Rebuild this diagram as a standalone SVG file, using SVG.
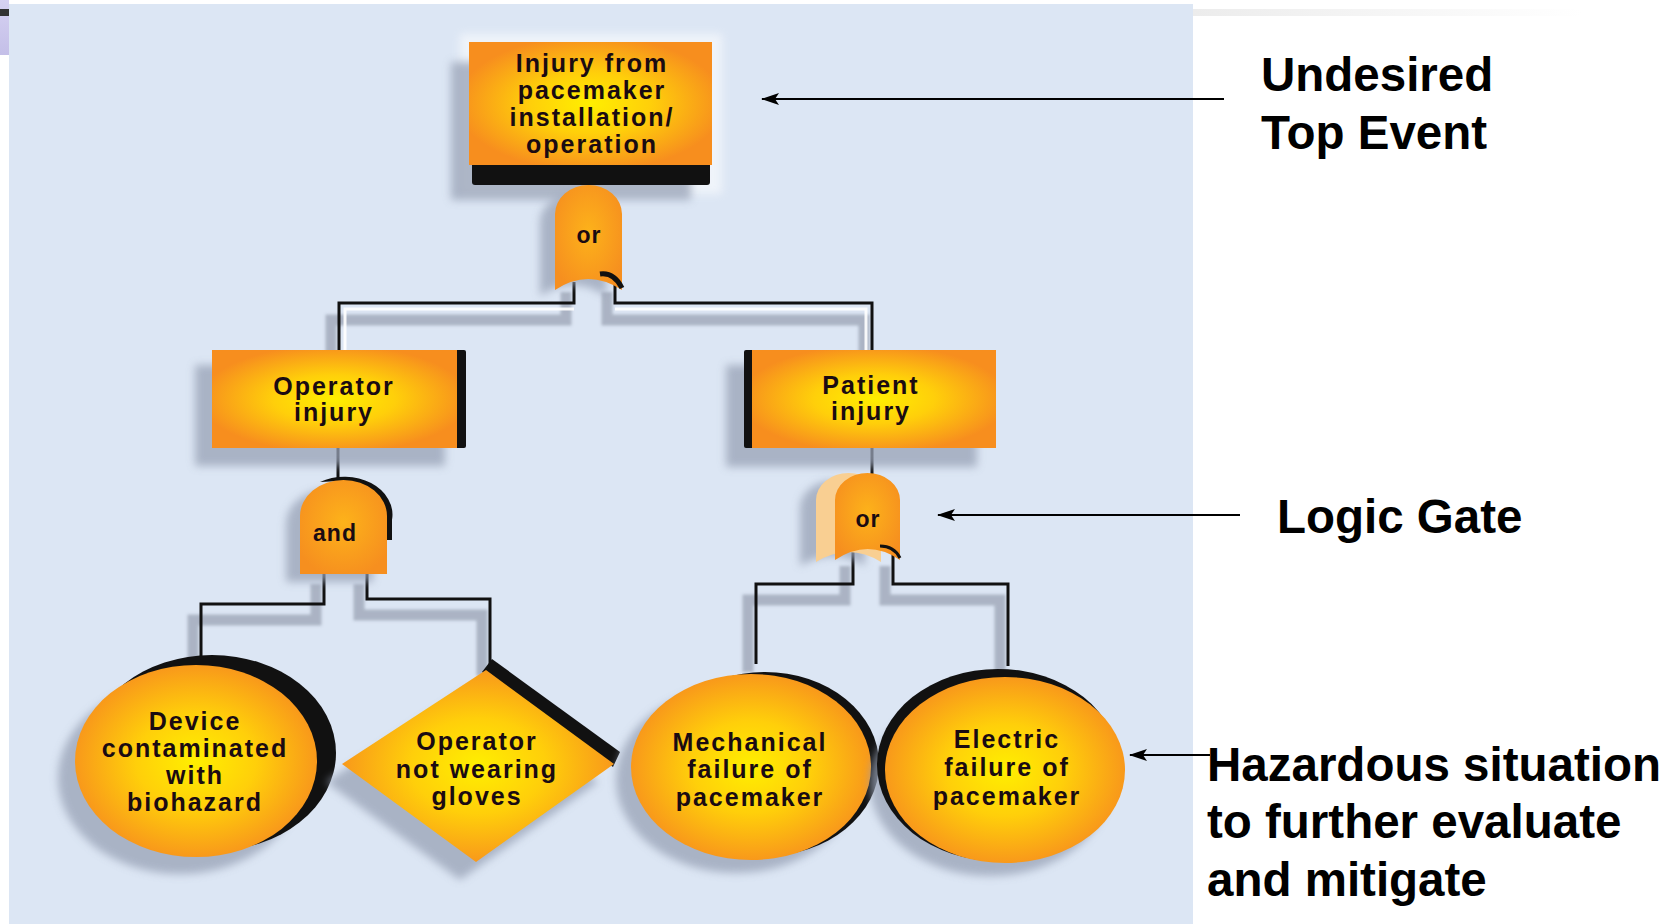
<svg xmlns="http://www.w3.org/2000/svg" width="1672" height="924" viewBox="0 0 1672 924">
  <defs>
    <radialGradient id="warm" cx="50%" cy="50%" r="55%">
      <stop offset="0" stop-color="#ffef00"/>
      <stop offset="0.45" stop-color="#ffcf0a"/>
      <stop offset="1" stop-color="#f78e1e"/>
    </radialGradient>
    <radialGradient id="gateFill" cx="50%" cy="45%" r="60%">
      <stop offset="0" stop-color="#fdb21a"/>
      <stop offset="1" stop-color="#f68f1f"/>
    </radialGradient>
    <linearGradient id="lavender" x1="0" y1="0" x2="0" y2="1">
      <stop offset="0" stop-color="#d6d2f2"/>
      <stop offset="1" stop-color="#c4bfe8"/>
    </linearGradient>
    <linearGradient id="rule" x1="0" y1="0" x2="1" y2="0">
      <stop offset="0" stop-color="#ececec"/>
      <stop offset="1" stop-color="#ffffff"/>
    </linearGradient>
    <filter id="soft" x="-20%" y="-20%" width="140%" height="140%">
      <feGaussianBlur stdDeviation="4"/>
    </filter>
    <filter id="softer" x="-20%" y="-20%" width="140%" height="140%">
      <feGaussianBlur stdDeviation="1.5"/>
    </filter>
    <!-- solid arrowhead; tip sits on the end of the line -->
    <marker id="arrow" viewBox="0 0 18 12" refX="17" refY="6" markerWidth="18" markerHeight="12" markerUnits="userSpaceOnUse" orient="auto">
      <path d="M0,0 L18,6 L0,12 L4,6 Z" fill="#000"/>
    </marker>
    <style>
      .shadow { fill: #98a2b6; opacity: 0.75; filter: url(#soft); }
      .face { fill: url(#warm); }
      .gate { fill: url(#gateFill); }
      .rim { fill: #111; }
      .node-text { font-family: "Liberation Sans", Arial, sans-serif; font-weight: bold; font-size: 25px; letter-spacing: 2px; fill: #1a0b12; text-anchor: middle; }
      .gate-text { font-family: "Liberation Sans", Arial, sans-serif; font-weight: bold; font-size: 23px; letter-spacing: 1px; fill: #1a0b12; text-anchor: middle; }
      .label { font-family: "Liberation Sans", Arial, sans-serif; font-weight: bold; font-size: 47.5px; fill: #000; }
      .wire { fill: none; stroke: #111; stroke-width: 3; }
      .wire-shadow { fill: none; stroke: #a3abbc; stroke-width: 11; opacity: 0.85; filter: url(#softer); }
      .wire-light { fill: none; stroke: #ffffff; stroke-width: 3; opacity: 0.9; }
      .pointer { fill: none; stroke: #000; stroke-width: 2; }
    </style>
  </defs>

  <!-- page and panel -->
  <rect x="0" y="0" width="1672" height="924" fill="#ffffff"/>
  <rect x="9" y="4" width="1184" height="920" fill="#dce6f4"/>
  <rect x="0" y="0" width="9" height="55" fill="url(#lavender)"/>
  <rect x="0" y="9" width="9" height="7" fill="#333333"/>
  <rect x="1193" y="9" width="390" height="7" fill="url(#rule)"/>

  <!-- connectors -->
  <g id="connectors">
    <g class="shadows">
      <polyline class="wire-shadow" points="566,292 566,320 331,320 331,362"/>
      <polyline class="wire-shadow" points="607,292 607,320 864,320 864,362"/>
      <polyline class="wire-shadow" points="316,584 316,620 193,620 193,668"/>
      <polyline class="wire-shadow" points="359,584 359,615 482,615 482,676"/>
      <polyline class="wire-shadow" points="845,566 845,600 748,600 748,672"/>
      <polyline class="wire-shadow" points="885,566 885,600 1000,600 1000,674"/>
      <polyline class="wire-light" points="574,309 345,309 345,352"/>
      <polyline class="wire-light" points="615,309 866,309 866,352"/>
    </g>
    <polyline class="wire" points="574,282 574,303 339,303 339,352"/>
    <polyline class="wire" points="615,282 615,303 872,303 872,352"/>
    <line class="wire" x1="338" y1="448" x2="338" y2="482"/>
    <line class="wire" x1="872" y1="448" x2="872" y2="475"/>
    <polyline class="wire" points="324,572 324,604 201,604 201,662"/>
    <polyline class="wire" points="367,572 367,599 490,599 490,666"/>
    <polyline class="wire" points="853,552 853,584 756,584 756,664"/>
    <polyline class="wire" points="893,552 893,584 1008,584 1008,666"/>
  </g>

  <!-- top event -->
  <g id="top-event">
    <rect x="460" y="34" width="262" height="160" fill="#ffffff" opacity="0.55" filter="url(#soft)"/>
    <rect class="shadow" x="451" y="62" width="240" height="138"/>
    <rect class="rim" x="472" y="158" width="238" height="27" rx="3"/>
    <rect class="face" x="469" y="42" width="243" height="123"/>
    <text class="node-text" x="592" y="72">Injury from</text>
    <text class="node-text" x="592" y="99">pacemaker</text>
    <text class="node-text" x="592" y="126">installation/</text>
    <text class="node-text" x="592" y="153">operation</text>
  </g>

  <!-- top OR gate -->
  <g id="gate-or-top">
    <path class="shadow" d="M540,296 V222 A33,28 0 0 1 606,222 V296 Q573,274 540,296 Z"/>
    <path class="gate" d="M555,290 V214 A33.5,29 0 0 1 622,214 V290 Q588,268 555,290 Z"/>
    <path d="M600,274 Q614,272 622,288" fill="none" stroke="#111" stroke-width="5"/>
    <text class="gate-text" x="589" y="243">or</text>
  </g>

  <!-- operator injury -->
  <g id="operator-injury">
    <rect class="shadow" x="195" y="365" width="250" height="101"/>
    <rect class="rim" x="452" y="350" width="14" height="98" rx="2"/>
    <rect class="face" x="212" y="350" width="245" height="98"/>
    <text class="node-text" x="334" y="395">Operator</text>
    <text class="node-text" x="334" y="421">injury</text>
  </g>

  <!-- patient injury -->
  <g id="patient-injury">
    <rect class="shadow" x="726" y="365" width="251" height="102"/>
    <rect class="rim" x="744" y="350" width="12" height="98" rx="2"/>
    <rect class="face" x="752" y="350" width="244" height="98"/>
    <text class="node-text" x="871" y="394">Patient</text>
    <text class="node-text" x="871" y="420">injury</text>
  </g>

  <!-- AND gate -->
  <g id="gate-and">
    <path class="shadow" d="M286,582 V524 A43.5,35 0 0 1 373,524 V582 Z"/>
    <path d="M320,482 A48,38 0 0 1 392,520 V540 L384,540 V516 A43.5,35 0 0 0 340,481 Z" fill="#111"/>
    <path class="gate" d="M300,574 V516 A43.5,36 0 0 1 387,516 V574 Z"/>
    <text class="gate-text" x="335" y="541">and</text>
  </g>

  <!-- right OR gate -->
  <g id="gate-or-right">
    <path class="shadow" d="M800,566 V508 A32.5,27 0 0 1 865,508 V566 Q833,546 800,566 Z"/>
    <path d="M816,562 V500 A32.5,27 0 0 1 881,500 V562 Q849,542 816,562 Z" fill="#f9cf92"/>
    <path class="gate" d="M835,560 V500 A32.5,27 0 0 1 900,500 V560 Q868,538 835,560 Z"/>
    <path d="M880,546 Q894,546 900,558" fill="none" stroke="#111" stroke-width="3"/>
    <text class="gate-text" x="868" y="527">or</text>
  </g>

  <!-- basic event: device contaminated -->
  <g id="device-contaminated">
    <ellipse class="shadow" cx="180" cy="778" rx="122" ry="96"/>
    <ellipse class="rim" cx="212" cy="753" rx="124" ry="98"/>
    <ellipse class="face" cx="196" cy="761" rx="121" ry="96"/>
    <text class="node-text" x="195" y="730">Device</text>
    <text class="node-text" x="195" y="757">contaminated</text>
    <text class="node-text" x="195" y="784">with</text>
    <text class="node-text" x="195" y="811">biohazard</text>
  </g>

  <!-- undeveloped event: operator not wearing gloves -->
  <g id="operator-gloves">
    <polygon class="shadow" points="470,688 598,782 460,880 326,782"/>
    <polygon class="rim" points="482,672 492,659 620,752 613,767"/>
    <polygon class="face" points="486,670 614,764 476,862 342,764"/>
    <text class="node-text" x="477" y="750">Operator</text>
    <text class="node-text" x="477" y="778">not wearing</text>
    <text class="node-text" x="477" y="805">gloves</text>
  </g>

  <!-- basic event: mechanical failure -->
  <g id="mechanical-failure">
    <ellipse class="shadow" cx="736" cy="780" rx="120" ry="93"/>
    <ellipse class="rim" cx="765" cy="764" rx="114" ry="92"/>
    <ellipse class="face" cx="751" cy="767" rx="120" ry="93"/>
    <text class="node-text" x="750" y="751">Mechanical</text>
    <text class="node-text" x="750" y="778">failure of</text>
    <text class="node-text" x="750" y="806">pacemaker</text>
  </g>

  <!-- basic event: electric failure -->
  <g id="electric-failure">
    <ellipse class="shadow" cx="990" cy="783" rx="120" ry="93"/>
    <ellipse class="rim" cx="998" cy="765" rx="121" ry="96"/>
    <ellipse class="face" cx="1005" cy="770" rx="120" ry="93"/>
    <text class="node-text" x="1007" y="748">Electric</text>
    <text class="node-text" x="1007" y="776">failure of</text>
    <text class="node-text" x="1007" y="805">pacemaker</text>
  </g>

  <!-- callouts -->
  <g id="callouts">
    <line class="pointer" x1="1224" y1="99" x2="762" y2="99" marker-end="url(#arrow)"/>
    <line class="pointer" x1="1240" y1="515" x2="938" y2="515" marker-end="url(#arrow)"/>
    <line class="pointer" x1="1210" y1="755" x2="1130" y2="755" marker-end="url(#arrow)"/>
    <text class="label" x="1261" y="91">Undesired</text>
    <text class="label" x="1261" y="149">Top Event</text>
    <text class="label" x="1277" y="533">Logic Gate</text>
    <text class="label" x="1207" y="781">Hazardous situation</text>
    <text class="label" x="1207" y="838">to further evaluate</text>
    <text class="label" x="1207" y="896">and mitigate</text>
  </g>
</svg>
